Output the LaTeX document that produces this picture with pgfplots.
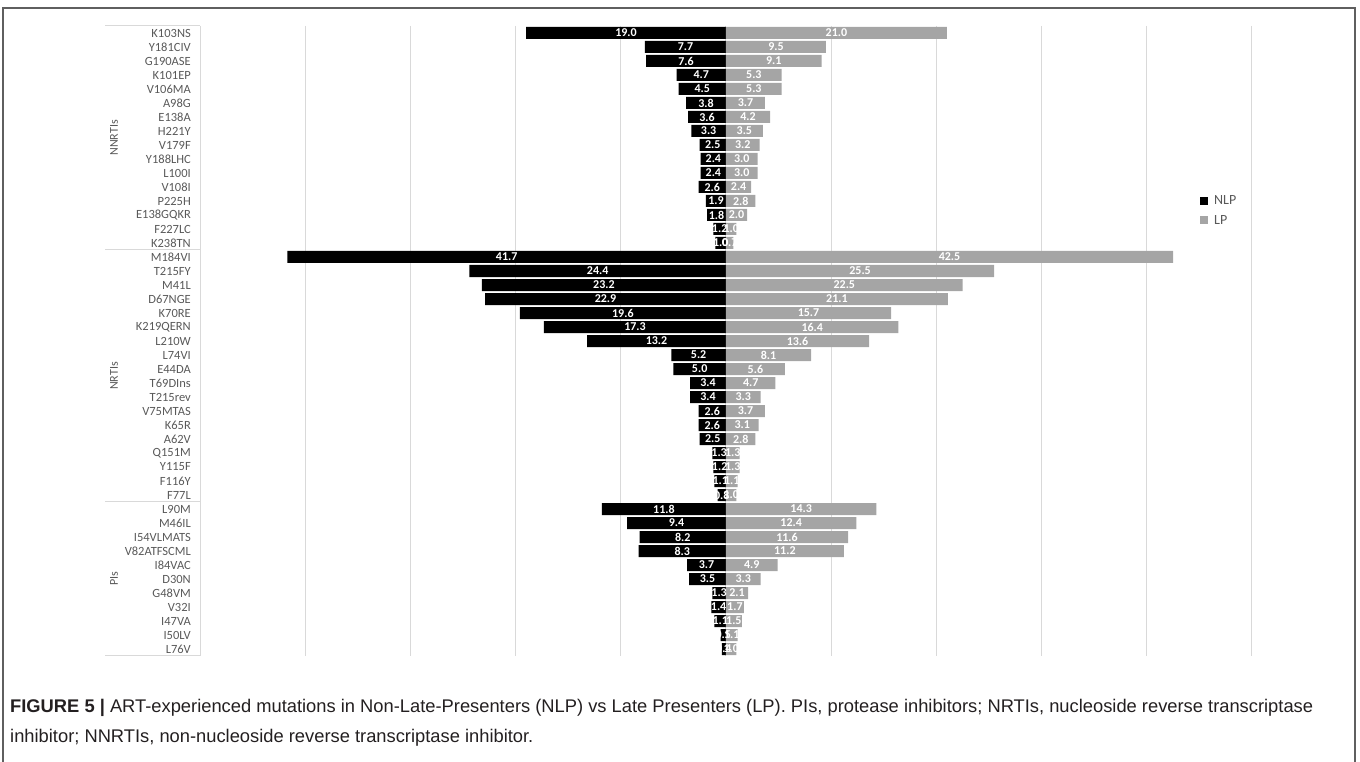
\documentclass[border=0pt]{standalone}
\usepackage{pgfplots}
\pgfplotsset{compat=1.18}
\usepackage{pgfplotstable}
\usepackage{graphicx}
\usepackage{fontspec}
\setmainfont{Carlito}
\newfontfamily\capfont{Liberation Sans}

\definecolor{lpgrey}{HTML}{A5A5A5}
\definecolor{txtgrey}{HTML}{595959}
\definecolor{gridgrey}{HTML}{D9D9D9}
\definecolor{framegrey}{HTML}{5F5F5F}
\definecolor{captxt}{HTML}{231F20}

\pgfplotstableread{
idx nlp lp
0 19.0 21.0
1 7.7 9.5
2 7.6 9.1
3 4.7 5.3
4 4.5 5.3
5 3.8 3.7
6 3.6 4.2
7 3.3 3.5
8 2.5 3.2
9 2.4 3.0
10 2.4 3.0
11 2.6 2.4
12 1.9 2.8
13 1.8 2.0
14 1.2 1.0
15 1.0 0.7
16 41.7 42.5
17 24.4 25.5
18 23.2 22.5
19 22.9 21.1
20 19.6 15.7
21 17.3 16.4
22 13.2 13.6
23 5.2 8.1
24 5.0 5.6
25 3.4 4.7
26 3.4 3.3
27 2.6 3.7
28 2.6 3.1
29 2.5 2.8
30 1.3 1.3
31 1.2 1.3
32 1.1 1.1
33 0.8 1.0
34 11.8 14.3
35 9.4 12.4
36 8.2 11.6
37 8.3 11.2
38 3.7 4.9
39 3.5 3.3
40 1.3 2.1
41 1.4 1.7
42 1.1 1.5
43 0.5 1.1
44 0.4 1.0
}\mydata

\newlength\capw
\newcommand\capone{\textbf{FIGURE 5 |} ART-experienced mutations in Non-Late-Presenters (NLP) vs Late Presenters (LP). PIs, protease inhibitors; NRTIs, nucleoside reverse transcriptase}
\newcommand\captwo{inhibitor; NNRTIs, non-nucleoside reverse transcriptase inhibitor.}

\begin{document}
\settowidth\capw{\capfont\fontsize{16}{16}\selectfont\capone}%
\pgfmathsetmacro\capscale{1303/\capw}%
\begin{tikzpicture}[x=1pt,y=1pt]
\useasboundingbox (0,0) rectangle (1360,762);
\begin{axis}[
  at={(200pt,106pt)}, anchor=south west,
  scale only axis, width=1052pt, height=630pt,
  xmin=-50, xmax=50, ymin=-0.5, ymax=44.5, y dir=reverse,
  xtick={-50,-40,...,50}, xticklabels={},
  xmajorgrids, major grid style={gridgrey, line width=1pt},
  ytick={0,...,44},
  yticklabels={K103NS,Y181CIV,G190ASE,K101EP,V106MA,A98G,E138A,H221Y,V179F,Y188LHC,L100I,V108I,P225H,E138GQKR,F227LC,K238TN,M184VI,T215FY,M41L,D67NGE,K70RE,K219QERN,L210W,L74VI,E44DA,T69DIns,T215rev,V75MTAS,K65R,A62V,Q151M,Y115F,F116Y,F77L,L90M,M46IL,I54VLMATS,V82ATFSCML,I84VAC,D30N,G48VM,V32I,I47VA,I50LV,L76V},
  yticklabel style={font=\fontsize{12.5}{13}\selectfont, text=txtgrey, anchor=east, inner sep=0pt, xshift=-9pt},
  axis line style={draw=none}, major tick length=0pt, tick style={draw=none},
  clip=false,
  /pgf/number format/assume math mode=true,
  legend style={at={(axis description cs:0.9506,0.707)}, anchor=west, draw=none, fill=none,
    font=\fontsize{14}{15}\selectfont, text=txtgrey, row sep=5pt, column sep=4pt, inner sep=0pt},
  legend cell align=left,
]
\addplot[xbar, bar width=12pt, bar shift=0pt, fill=black, draw=none,
  legend image code/.code={\fill[black] (0pt,-4pt) rectangle (8pt,4pt);}]
  table[x expr=-\thisrow{nlp}, y=idx] {\mydata};
\addlegendentry{NLP}
\addplot[xbar, bar width=12pt, bar shift=0pt, fill=lpgrey, draw=none,
  legend image code/.code={\fill[lpgrey] (0pt,-4pt) rectangle (8pt,4pt);}]
  table[x=lp, y=idx] {\mydata};
\addlegendentry{LP}
\addplot[forget plot, only marks, mark=*, mark size=0pt, mark options={draw=none, fill=none},
  point meta=explicit,
  nodes near coords={\pgfmathprintnumber[fixed,fixed zerofill,precision=1,assume math mode=true]{\pgfplotspointmeta}},
  nodes near coords style={anchor=center, text=white, font=\bfseries\fontsize{12}{12}\selectfont, inner sep=0pt}]
  table[x expr=-\thisrow{nlp}/2, y=idx, meta=nlp] {\mydata};
\addplot[forget plot, only marks, mark=*, mark size=0pt, mark options={draw=none, fill=none},
  point meta=explicit,
  nodes near coords={\pgfmathprintnumber[fixed,fixed zerofill,precision=1,assume math mode=true]{\pgfplotspointmeta}},
  nodes near coords style={anchor=center, text=white, font=\bfseries\fontsize{12}{12}\selectfont, inner sep=0pt}]
  table[x expr=\thisrow{lp}/2, y=idx, meta=lp] {\mydata};
\end{axis}
% category group box
\draw[gridgrey, line width=1pt] (105,736) -- (200,736) (105,512) -- (200,512) (105,260) -- (200,260) (105,106) -- (200,106);
\node[rotate=90, text=txtgrey, font=\fontsize{12}{12}\selectfont] at (114,624) {NNRTIs};
\node[rotate=90, text=txtgrey, font=\fontsize{12}{12}\selectfont] at (114,386) {NRTIs};
\node[rotate=90, text=txtgrey, font=\fontsize{12}{12}\selectfont] at (114,183) {PIs};
% caption
\node[anchor=base west, inner sep=0pt, text=captxt] at (10,49) {\scalebox{\capscale}{\capfont\fontsize{16}{16}\selectfont\capone}};
\node[anchor=base west, inner sep=0pt, text=captxt] at (10,19) {\scalebox{\capscale}{\capfont\fontsize{16}{16}\selectfont\captwo}};
% frame
\draw[framegrey, line width=2pt] (3,-5) -- (3,754) -- (1355,754) -- (1355,-5);
\end{tikzpicture}
\end{document}
